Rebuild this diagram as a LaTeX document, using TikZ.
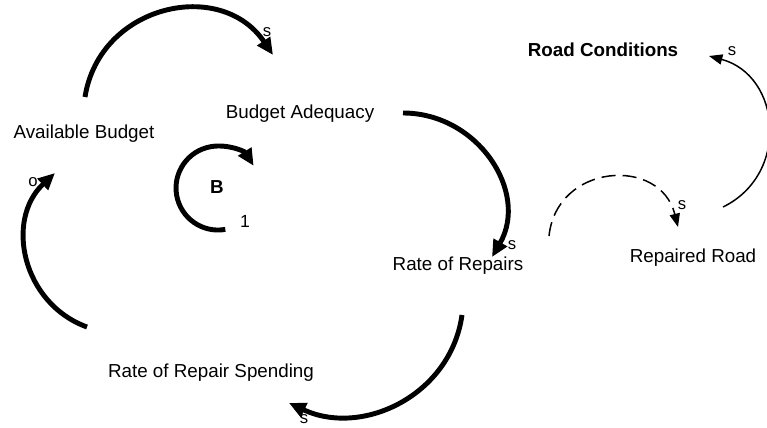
\documentclass[tikz,border=0pt]{standalone}
\usepackage{fontspec}
\setmainfont{Liberation Sans}
\usetikzlibrary{arrows.meta}

\begin{document}
\begin{tikzpicture}[x=0.02cm, y=0.02cm,
    var/.style={font=\fontsize{10.7}{13}\selectfont, inner sep=0pt},
    pol/.style={font=\fontsize{9.5}{11}\selectfont, inner sep=0pt},
    thicklink/.style={line width=2.8pt, -{Triangle[length=9.6pt, width=8.5pt]}},
    thinlink/.style={line width=0.85pt, -{Triangle[length=7.6pt, width=5.8pt]}}]
    % Causal loop diagram, units are pixels of a 767 x 427 frame, y upwards.
    %   balancing loop B1: budget -> adequacy -> repairs -> spending -> budget
    %   right part: repairs -> repaired road -> road conditions (thin links)
    \useasboundingbox (0,0) rectangle (767,427);

    % variables
    \node[var] (avail) at (84,293) {Available Budget};
    \node[var] (adeq) at (300,313) {Budget Adequacy};
    \node[var] (repairs) at (458,161) {Rate of Repairs};
    \node[var] (spend) at (211,54) {Rate of Repair Spending};
    \node[var] (road) at (693,169) {Repaired Road};
    \node[var, font=\fontsize{10.7}{13}\selectfont\bfseries] (cond) at (603,377) {Road Conditions};

    % loop marker
    \node[var, font=\fontsize{10.7}{13}\selectfont\bfseries] (loop) at (217,240) {B};
    \node[var, font=\fontsize{10}{12}\selectfont] (loopnum) at (245,206) {1};
    \coordinate (loop-start) at (225.3,197.6);
    \draw[thicklink] (loop-start) arc[start angle=-80, end angle=-328, radius=0.84cm];

    % link end points
    \coordinate (avail-out) at (85,330);
    \coordinate (adeq-in) at (273,372);
    \coordinate (adeq-out) at (403,314);
    \coordinate (repairs-in) at (492,170);
    \coordinate (repairs-out) at (462,112);
    \coordinate (spend-in) at (289,24);
    \coordinate (spend-out) at (87,100);
    \coordinate (avail-in) at (55,254);
    \coordinate (repairs-out2) at (549,191);
    \coordinate (road-in) at (678,200);
    \coordinate (road-out) at (723,220);
    \coordinate (cond-in) at (709,371);

    % thick links of the loop
    \draw[thicklink] (avail-out) to[out=81, in=124, looseness=1.24] (adeq-in);
    \draw[thicklink] (adeq-out) to[out=0, in=60, looseness=1.13] (repairs-in);
    \draw[thicklink] (repairs-out) to[out=-98, in=-25, looseness=1.07] (spend-in);
    \draw[thicklink] (spend-out) to[out=160, in=223, looseness=1.12] (avail-in);

    % thin links
    \draw[thinlink, dash pattern={on 8pt off 4pt}] (repairs-out2) to[out=84, in=104, looseness=1.45] (road-in);
    \draw[thinlink] (road-out) to[out=26, in=-15, looseness=1.26] (cond-in);

    % polarities
    \node[pol] (pol-adeq) at (267,395) {s};
    \node[pol] (pol-repairs) at (512,182) {s};
    \node[pol] (pol-spend) at (304,8) {s};
    \node[pol] (pol-avail) at (33,245) {o};
    \node[pol] (pol-road) at (682,222) {s};
    \node[pol] (pol-cond) at (732,376) {s};
\end{tikzpicture}
\end{document}
